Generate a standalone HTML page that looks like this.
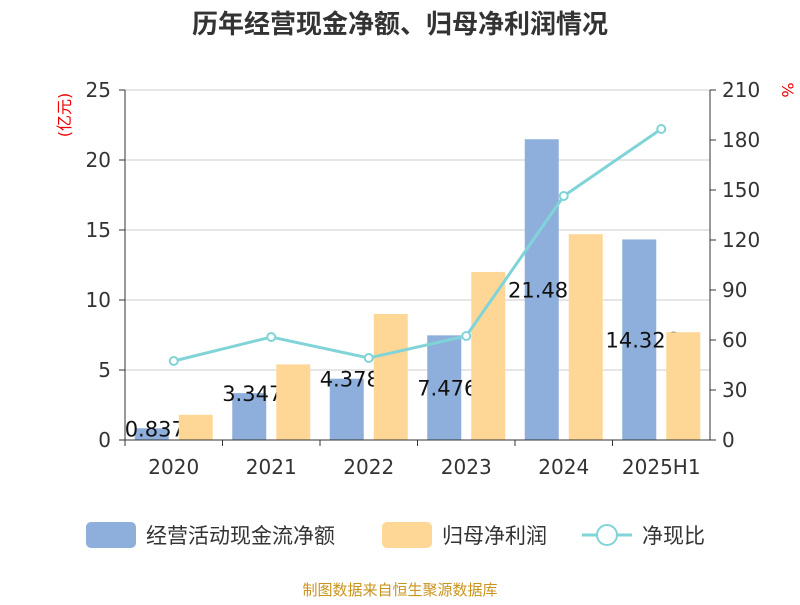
<!DOCTYPE html>
<html><head><meta charset="utf-8"><style>
body{margin:0;background:#fff;}
svg text{font-family:"DejaVu Sans","Noto Sans CJK SC",sans-serif;}
</style></head><body>
<svg id="chart" width="800" height="600" xmlns="http://www.w3.org/2000/svg">
<text x="400" y="33" text-anchor="middle" font-size="26" font-weight="bold" fill="#333" style="font-family:'Noto Sans CJK SC',sans-serif">历年经营现金净额、归母净利润情况</text>
<text transform="translate(70,115) rotate(-90)" text-anchor="middle" font-size="16" fill="#e00">(亿元)</text>
<text transform="translate(782,90) rotate(90)" text-anchor="middle" font-size="16" fill="#e00">%</text>
<g id="grid"></g><g id="bars"></g><g id="labels"></g><g id="bars2"></g><g id="line"></g><g id="axes"></g>
<g>
<rect x="86" y="522" width="50" height="26" rx="5" fill="#8eaedb"/>
<text x="146" y="543" font-size="21" fill="#333" style="font-family:'Noto Sans CJK SC',sans-serif">经营活动现金流净额</text>
<rect x="382" y="522" width="50" height="26" rx="5" fill="#fed797"/>
<text x="442" y="543" font-size="21" fill="#333" style="font-family:'Noto Sans CJK SC',sans-serif">归母净利润</text>
<line x1="582" y1="535" x2="632" y2="535" stroke="#80d4d8" stroke-width="3"/>
<circle cx="607" cy="535" r="10" fill="#fff" stroke="#80d4d8" stroke-width="2"/>
<text x="642" y="543" font-size="21" fill="#333" style="font-family:'Noto Sans CJK SC',sans-serif">净现比</text>
</g>
<text x="400" y="595" text-anchor="middle" font-size="15" fill="#c8941e" style="font-family:'Noto Sans CJK SC',sans-serif">制图数据来自恒生聚源数据库</text>
</svg>
<script>
const categories=["2020","2021","2022","2023","2024","2025H1"];
const cashFlow=[0.837,3.347,4.378,7.476,21.482,14.326];
const netProfit=[1.8,5.4,9.0,12.0,14.7,7.7];
const ratio=[47.4,61.8,49.2,62.4,146.4,186.6];
const leftTicks=[0,5,10,15,20,25];
const rightTicks=[0,30,60,90,120,150,180,210];
const NS="http://www.w3.org/2000/svg";
const X0=125,X1=710,Y0=440,Y1=90;
const band=(X1-X0)/categories.length;
const yL=v=>Y0-(v/25)*(Y0-Y1);
const yR=v=>Y0-(v/210)*(Y0-Y1);
const xc=i=>X0+band*(i+0.5);
function mk(tag,attrs,parent){const e=document.createElementNS(NS,tag);for(const k in attrs)e.setAttribute(k,attrs[k]);document.getElementById(parent).appendChild(e);return e;}
leftTicks.forEach(t=>{
 const g=mk("line",{x1:X0,x2:X1,y1:yL(t),y2:yL(t),stroke:"#ccc","stroke-width":1},"grid");
 
 
 const lt=mk("text",{x:X0-14,y:yL(t)+7,"text-anchor":"end","font-size":20,fill:"#333"},"axes");lt.textContent=t;
 
 
 mk("line",{x1:X0-6,x2:X0,y1:yL(t),y2:yL(t),stroke:"#333"},"axes");
});
rightTicks.forEach(t=>{
 const rt=mk("text",{x:X1+12,y:yR(t)+7,"font-size":20,fill:"#333"},"axes");rt.textContent=t;
 
 
 mk("line",{x1:X1,x2:X1+6,y1:yR(t),y2:yR(t),stroke:"#333"},"axes");
});
mk("line",{x1:X0,x2:X0,y1:Y1,y2:Y0,stroke:"#333"},"axes");
mk("line",{x1:X1,x2:X1,y1:Y1,y2:Y0,stroke:"#333"},"axes");
mk("line",{x1:X0,x2:X1,y1:Y0,y2:Y0,stroke:"#333"},"axes");
const bw=34;
categories.forEach((c,i)=>{
 const ct=mk("text",{x:xc(i),y:Y0+34,"text-anchor":"middle","font-size":20,fill:"#333"},"axes");ct.textContent=c;
 
 
 mk("line",{x1:X0+band*i,x2:X0+band*i,y1:Y0,y2:Y0+6,stroke:"#333"},"axes");
 const bx=xc(i)-bw-5;
 const b=mk("rect",{x:bx,y:yL(cashFlow[i]),width:bw,height:Y0-yL(cashFlow[i]),fill:"#8eaedb"},"bars");
 
 
 const o=mk("rect",{x:xc(i)+5,y:yL(netProfit[i]),width:bw,height:Y0-yL(netProfit[i]),fill:"#fed797"},"bars2");
 
 
 const top=yL(cashFlow[i]);
 const ly=cashFlow[i]>5?(top+Y0)/2:Math.min(top,Y0-10);
 const lb=mk("text",{x:bx+bw/2+3,y:ly+8,"text-anchor":"middle","font-size":21,fill:"#111"},"labels");lb.textContent=cashFlow[i].toFixed(3);
 
 
});
const pts=ratio.map((v,i)=>xc(i)+","+yR(v)).join(" ");
const pl=mk("polyline",{points:pts,fill:"none",stroke:"#80d4d8","stroke-width":3},"line");


ratio.forEach(v=>{});
ratio.forEach((v,i)=>{
 const p=mk("circle",{cx:xc(i),cy:yR(v),r:4,fill:"#fff",stroke:"#80d4d8","stroke-width":2},"line");
 
 
});
</script>
</body></html>
